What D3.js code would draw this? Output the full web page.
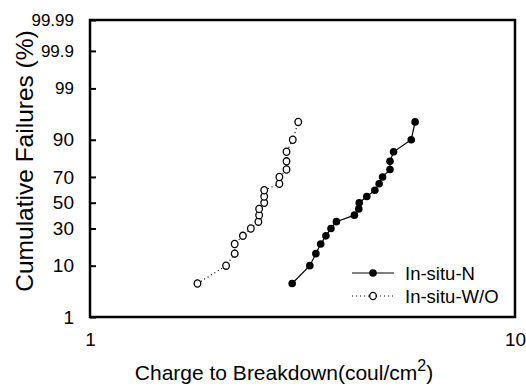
<!DOCTYPE html>
<html><head><meta charset="utf-8">
<script src="https://cdn.jsdelivr.net/npm/d3@7"></script>
<style>
body{margin:0;background:#fff}
svg{display:block}
text{font-family:Arial,"Liberation Sans",sans-serif;fill:#000}
</style>
</head><body><svg id="c" width="526" height="386"></svg>
<script>
// ---- data ----
const percentFailed = [5,10,15,20,25,30,35,40,45,50,55,60,65,70,75,80,85,90,95];
const chargeN  = [2.99,3.29,3.40,3.49,3.59,3.69,3.80,4.19,4.29,4.30,4.48,4.68,4.79,4.88,5.08,5.08,5.18,5.70,5.82];
const chargeWO = [1.79,2.09,2.19,2.19,2.29,2.39,2.49,2.50,2.50,2.57,2.57,2.57,2.79,2.79,2.90,2.90,2.90,3.00,3.09];
const seriesNames = ["In-situ-N","In-situ-W/O"];
const yTickValues = [1,10,30,50,70,90,99,99.9,99.99];
const yTickLabels = ["1","10","30","50","70","90","99","99.9","99.99"];
const xTickValues = [1,10];
const xTickLabels = ["1","10"];

// inverse normal CDF (probability-paper transform)
function probit(p){
  const a=[-3.969683028665376e+01,2.209460984245205e+02,-2.759285104469687e+02,1.383577518672690e+02,-3.066479806614716e+01,2.506628277459239e+00];
  const b=[-5.447609879822406e+01,1.615858368580409e+02,-1.556989798598866e+02,6.680131188771972e+01,-1.328068155288572e+01];
  const c=[-7.784894002430293e-03,-3.223964580411365e-01,-2.400758277161838e+00,-2.549671010803744e+00,4.374664141464968e+00,2.938163982698783e+00];
  const d=[7.784695709041462e-03,3.224671290700398e-01,2.445134137142996e+00,3.754408661907416e+00];
  const pl=0.02425, ph=1-pl; let q,r;
  if(p<pl){q=Math.sqrt(-2*Math.log(p));return (((((c[0]*q+c[1])*q+c[2])*q+c[3])*q+c[4])*q+c[5])/((((d[0]*q+d[1])*q+d[2])*q+d[3])*q+1);}
  if(p<=ph){q=p-0.5;r=q*q;return (((((a[0]*r+a[1])*r+a[2])*r+a[3])*r+a[4])*r+a[5])*q/(((((b[0]*r+b[1])*r+b[2])*r+b[3])*r+b[4])*r+1);}
  q=Math.sqrt(-2*Math.log(1-p));return -(((((c[0]*q+c[1])*q+c[2])*q+c[3])*q+c[4])*q+c[5])/((((d[0]*q+d[1])*q+d[2])*q+d[3])*q+1);
}

const svg = d3.select("#c");
svg.append("rect").attr("width",526).attr("height",386).attr("fill","#fff");

const L=90, R=515, T=20, B=317;
const x = d3.scaleLog().domain([1,10]).range([L,R]);
const yz = d3.scaleLinear().domain([probit(0.01),probit(0.9999)]).range([B,T]);
const y = p => yz(probit(p/100));

// y axis (inward ticks)
const yAxis = d3.axisLeft(yz)
  .tickValues(yTickValues.map(v=>probit(v/100)))
  .tickFormat((d,i)=>yTickLabels[i])
  .tickSizeInner(-6).tickSizeOuter(0).tickPadding(16);
const gy = svg.append("g").attr("transform",`translate(${L},0)`).call(yAxis);
gy.select(".domain").remove();
gy.selectAll(".tick line").attr("stroke","#000").attr("stroke-width",2);
gy.selectAll(".tick text").attr("font-size",(d,i)=> i>=6 ? 17 : 19).attr("font-family","Arial, Liberation Sans, sans-serif");

// x axis labels only
const xAxis = d3.axisBottom(x).tickValues(xTickValues).tickFormat((d,i)=>xTickLabels[i]).tickSize(0).tickPadding(16);
const gx = svg.append("g").attr("transform",`translate(0,${B})`).call(xAxis);
gx.select(".domain").remove();
gx.selectAll(".tick text").attr("font-size",19).attr("font-family","Arial, Liberation Sans, sans-serif");

// frame
svg.append("rect").attr("x",L).attr("y",T).attr("width",R-L).attr("height",B-T)
  .attr("fill","none").attr("stroke","#000").attr("stroke-width",2.5);

// series
const line = d3.line().x(d=>x(d[0])).y(d=>y(d[1]));
const dataN = chargeN.map((v,i)=>[v,percentFailed[i]]);
const dataWO = chargeWO.map((v,i)=>[v,percentFailed[i]]);

svg.append("path").datum(dataWO).attr("d",line).attr("fill","none")
  .attr("stroke","#000").attr("stroke-width",1.2).attr("stroke-dasharray","1,3");
svg.append("path").datum(dataN).attr("d",line).attr("fill","none")
  .attr("stroke","#000").attr("stroke-width",1.2);

svg.selectAll(".mWO").data(dataWO).enter().append("ellipse")
  .attr("cx",d=>x(d[0])).attr("cy",d=>y(d[1])).attr("rx",3.3).attr("ry",3.6)
  .attr("fill","#fff").attr("stroke","#000").attr("stroke-width",1.3);
svg.selectAll(".mN").data(dataN).enter().append("circle")
  .attr("cx",d=>x(d[0])).attr("cy",d=>y(d[1])).attr("r",3.8).attr("fill","#000");

// legend
const lg = svg.append("g");
lg.append("line").attr("x1",352).attr("x2",394).attr("y1",273).attr("y2",273).attr("stroke","#000").attr("stroke-width",1.2);
lg.append("circle").attr("cx",373).attr("cy",273).attr("r",3.8).attr("fill","#000");
lg.append("text").attr("x",405).attr("y",279.5).attr("font-size",18.5).text(seriesNames[0]);
lg.append("line").attr("x1",352).attr("x2",394).attr("y1",296).attr("y2",296).attr("stroke","#000").attr("stroke-width",1.2).attr("stroke-dasharray","1,3");
lg.append("ellipse").attr("cx",373).attr("cy",296).attr("rx",3.3).attr("ry",3.6).attr("fill","#fff").attr("stroke","#000").attr("stroke-width",1.3);
lg.append("text").attr("x",405).attr("y",302.5).attr("font-size",18.5).text(seriesNames[1]);

// axis titles
svg.append("text").attr("transform","translate(33,161) rotate(-90)").attr("text-anchor","middle")
  .attr("font-size",24.5).text("Cumulative Failures (%)");
const xt = svg.append("text").attr("x",284).attr("y",380).attr("text-anchor","middle").attr("font-size",21);
xt.append("tspan").text("Charge to Breakdown(coul/cm");
xt.append("tspan").attr("font-size",16).attr("dy",-9).text("2");
xt.append("tspan").attr("dy",9).text(")");
</script>
</body></html>
